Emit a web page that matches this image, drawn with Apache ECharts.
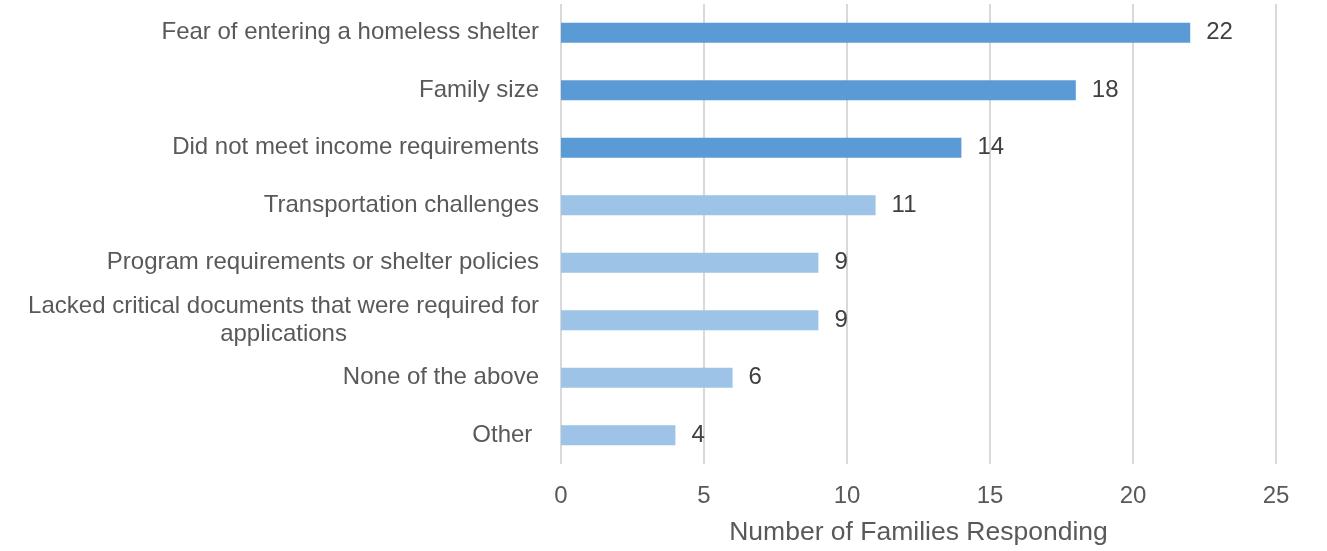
<!DOCTYPE html>
<html>
<head>
<meta charset="utf-8">
<style>
  html, body { margin: 0; padding: 0; background: #ffffff; }
  #chart { width: 1327px; height: 551px; }
</style>
<script src="https://cdn.jsdelivr.net/npm/echarts@6/dist/echarts.min.js"></script>
</head>
<body>
<div id="chart"></div>
<script>
// Barriers reported by families, ordered from most to least frequent
const categories = [
  'Fear of entering a homeless shelter',
  'Family size',
  'Did not meet income requirements',
  'Transportation challenges',
  'Program requirements or shelter policies',
  'Lacked critical documents that were required for\napplications',
  'None of the above',
  'Other '
];
const families = [22, 18, 14, 11, 9, 9, 6, 4];
// The three leading barriers are drawn in the stronger blue
const highlighted = [true, true, true, false, false, false, false, false];
const xTicks = { min: 0, max: 25, interval: 5 };
const axisTitle = 'Number of Families Responding';

const FONT = '"Liberation Sans", Arial, Helvetica, sans-serif';
const DARK = '#5B9BD5';
const LIGHT = '#9DC3E6';

const chart = echarts.init(document.getElementById('chart'), null, { renderer: 'canvas' });

chart.setOption({
  animation: false,
  backgroundColor: '#ffffff',
  grid: { left: 561, right: 51, top: 4, bottom: 84, containLabel: false },
  xAxis: {
    type: 'value',
    min: xTicks.min,
    max: xTicks.max,
    interval: xTicks.interval,
    name: axisTitle,
    nameLocation: 'middle',
    nameGap: 55,
    nameTextStyle: { fontFamily: FONT, fontSize: 26.5, color: '#595959' },
    axisLine: { show: false },
    axisTick: { show: false },
    axisLabel: { fontFamily: FONT, fontSize: 24, color: '#595959', margin: 20 },
    splitLine: { show: true, lineStyle: { color: '#D9D9D9', width: 2 } }
  },
  yAxis: {
    type: 'category',
    inverse: true,
    data: categories,
    axisLine: { show: false },
    axisTick: { show: false },
    axisLabel: {
      margin: 22,
      fontFamily: FONT,
      fontSize: 24,
      color: '#595959',
      formatter: function (v) {
        return v.split('\n').map(function (line) { return '{c|' + line + '}'; }).join('\n');
      },
      rich: {
        c: { align: 'center', fontFamily: FONT, fontSize: 24, color: '#595959', lineHeight: 28 }
      }
    }
  },
  series: [{
    type: 'bar',
    barWidth: 20,
    data: families.map(function (v, i) {
      return { value: v, itemStyle: { color: highlighted[i] ? DARK : LIGHT } };
    }),
    label: {
      show: true,
      position: 'right',
      distance: 16,
      fontFamily: FONT,
      fontSize: 24,
      color: '#404040'
    }
  }]
});
</script>
</body>
</html>
